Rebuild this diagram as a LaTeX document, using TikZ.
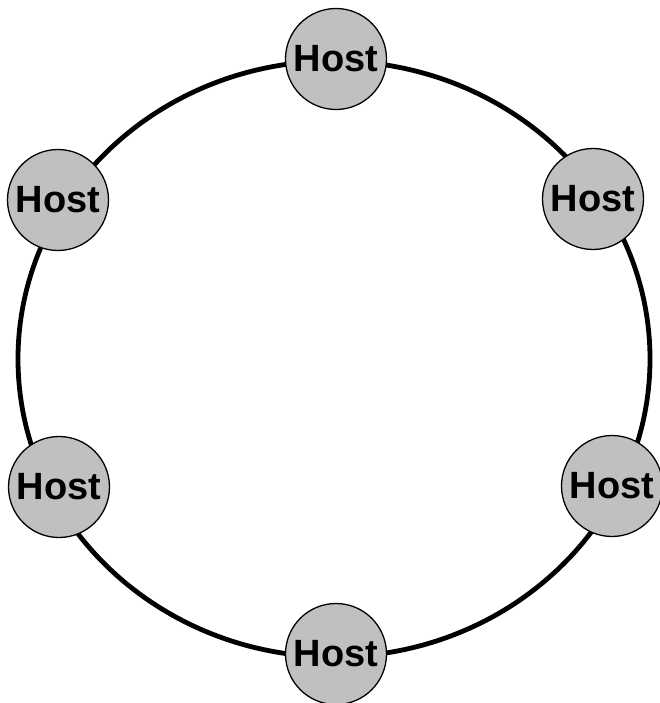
\documentclass[tikz,border=0pt]{standalone}
\usepackage{fontspec}
\setmainfont{Liberation Sans}
\begin{document}
\begin{tikzpicture}[x=1pt,y=-1pt,
  host/.style={circle,draw=black,line width=1.3pt,fill={rgb,255:red,192;green,192;blue,192},
    minimum size=101pt,inner sep=0pt,font=\fontsize{38}{40}\selectfont\bfseries},
  ring/.style={draw=black,line width=4.8pt}]
\useasboundingbox (0,0) rectangle (659,703);
\coordinate (c) at (334,359);
\draw[ring] (c) ellipse [x radius=316, y radius=298];
\node[host] (h1) at (336,59) {Host};
\node[host] (h2) at (58,200) {Host};
\node[host] (h3) at (593,199) {Host};
\node[host] (h4) at (59,487) {Host};
\node[host] (h5) at (612,486) {Host};
\node[host] (h6) at (336,654) {Host};
\end{tikzpicture}
\end{document}
